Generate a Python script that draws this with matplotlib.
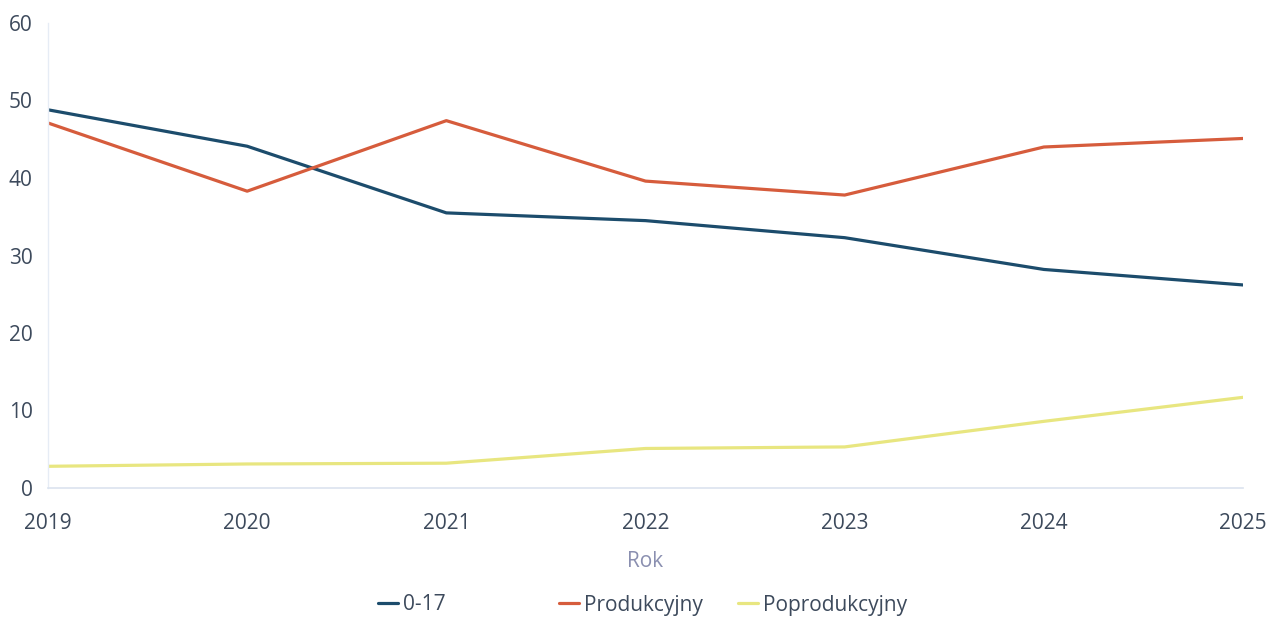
import matplotlib
matplotlib.use('Agg')
import matplotlib.pyplot as plt

years = [2019, 2020, 2021, 2022, 2023, 2024, 2025]
young = [48.8, 44.1, 35.5, 34.5, 32.3, 28.2, 26.2]
working = [47.1, 38.3, 47.4, 39.6, 37.8, 44.0, 45.1]
retired = [2.8, 3.1, 3.2, 5.1, 5.3, 8.6, 11.7]
labels = ['0-17', 'Produkcyjny', 'Poprodukcyjny']
colors = ['#1c4c6c', '#d65c3c', '#e8e680']

plt.rcParams['font.family'] = ['Open Sans', 'DejaVu Sans']

fig = plt.figure(figsize=(12.71, 6.19), dpi=100)
ax = fig.add_axes([48/1271, 1 - 488/619, (1243 - 48)/1271, (488 - 23)/619])

lines = []
for vals, lab, col in zip([young, working, retired], labels, colors):
    ln, = ax.plot(years, vals, color=col, lw=2.3, label=lab, solid_capstyle='round')
    lines.append(ln)

ax.set_xlim(2019, 2025)
ax.set_ylim(0, 60)
ax.set_xticks(years)
ax.set_yticks([0, 10, 20, 30, 40, 50, 60])
ax.tick_params(axis='both', length=0, labelsize=15, labelcolor='#3d4a5c')
ax.tick_params(axis='y', pad=11)
ax.tick_params(axis='x', pad=18)
for s in ['top', 'right']:
    ax.spines[s].set_visible(False)
ax.spines['left'].set_color('#e6ecf5')
ax.spines['bottom'].set_color('#dbe3ef')
ax.spines['left'].set_linewidth(1)
ax.spines['bottom'].set_linewidth(1.2)
ax.set_xlabel('Rok', fontsize=15, color='#8a8fb0', labelpad=12)

# legend entries placed one by one, like the original
xs = [368, 549, 728]
for ln, x in zip(lines, xs):
    fig.legend(handles=[ln], loc='center left', bbox_to_anchor=(x/1271, 1 - 605/619),
               frameon=False, fontsize=15, handlelength=0.95, handletextpad=0.25,
               labelcolor='#3d4a5c', borderpad=0)

fig.savefig('out.png', dpi=100)
